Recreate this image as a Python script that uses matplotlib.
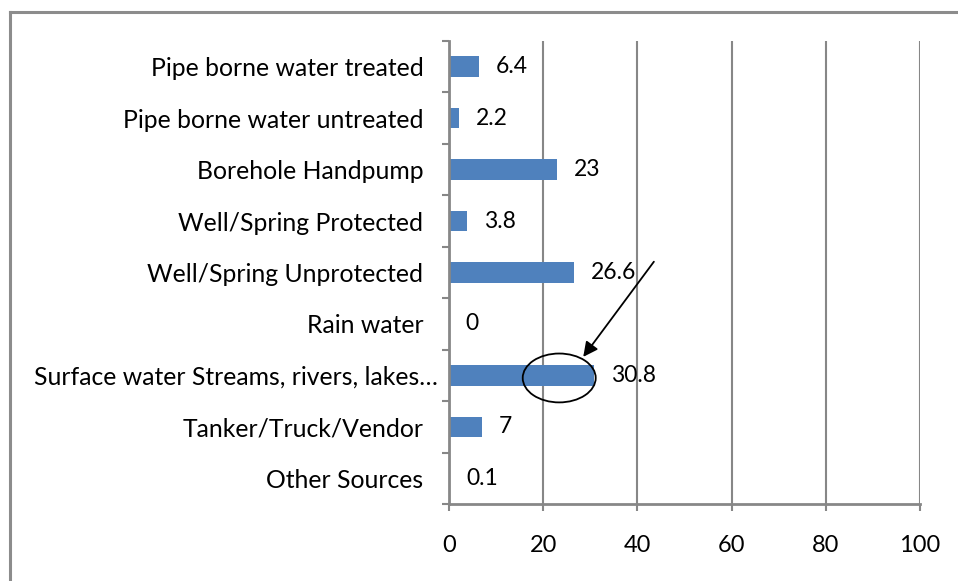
import matplotlib
matplotlib.use("Agg")
import matplotlib.pyplot as plt
from matplotlib.patches import Ellipse
from matplotlib.lines import Line2D
from matplotlib.transforms import ScaledTranslation
import numpy as np

categories = [
    "Pipe borne water treated",
    "Pipe borne water untreated",
    "Borehole Handpump",
    "Well/Spring Protected",
    "Well/Spring Unprotected",
    "Rain water",
    "Surface water Streams, rivers, lakes\u2026",
    "Tanker/Truck/Vendor",
    "Other Sources",
]
values = [6.4, 2.2, 23, 3.8, 26.6, 0, 30.8, 7, 0.1]
value_labels = ["6.4", "2.2", "23", "3.8", "26.6", "0", "30.8", "7", "0.1"]
x_ticks = [0, 20, 40, 60, 80, 100]

plt.rcParams['font.family'] = ['Lato', 'DejaVu Sans']

fig = plt.figure(figsize=(9.58, 5.81), dpi=100)
ax = fig.add_axes([449/958, 1-504/581, (920-449)/958, (504-41)/581])

grid_c = "#878787"
bar_c = "#4F81BD"

y = np.arange(len(categories))
ax.barh(y, values, height=0.4, color=bar_c, zorder=3)

for yi, v, lab in zip(y, values, value_labels):
    ax.annotate(lab, (v, yi), xytext=(12, 0), textcoords="offset points",
                va="center", ha="left", fontsize=16.5, color="black", zorder=4)

ax.set_xlim(0, 100)
ax.set_ylim(len(categories) - 0.5, -0.5)
ax.set_xticks(x_ticks)
ax.set_xticklabels([str(t) for t in x_ticks], fontsize=17)
ax.set_yticks(y)
ax.set_yticklabels(categories, fontsize=17.8)
ax.set_yticks(np.arange(len(categories) + 1) - 0.5, minor=True)
ax.tick_params(axis="y", which="major", length=0, pad=18.5)
ax.tick_params(axis="y", which="minor", length=5, width=1.5, color=grid_c, direction="out")
ax.tick_params(axis="x", which="major", length=5, width=1.5, color=grid_c, direction="out", pad=17.5)

ax.xaxis.grid(True, color=grid_c, linewidth=1.5, zorder=0)
ax.set_axisbelow(True)
for s in ["top", "right"]:
    ax.spines[s].set_visible(False)
for s in ["left", "bottom"]:
    ax.spines[s].set_color(grid_c)
    ax.spines[s].set_linewidth(2)
    ax.spines[s].set_zorder(5)

# the long truncated label overflows a little to the right in the original
lbl = ax.yaxis.get_major_ticks()[6].label1
lbl.set_transform(lbl.get_transform() + ScaledTranslation(15/100, 0, fig.dpi_scale_trans))

# highlight ellipse and arrow
ell = Ellipse((23.4, 6.05), width=15.5, height=0.95, fill=False,
              edgecolor="black", linewidth=1.3, zorder=6, clip_on=False)
ax.add_patch(ell)
ax.annotate("", xy=(28.5, 5.64), xytext=(43.5, 3.79),
            arrowprops=dict(arrowstyle="-|>", color="black", lw=1.3,
                            mutation_scale=22, shrinkA=0, shrinkB=0),
            zorder=6, annotation_clip=False)

# outer border (left and top visible)
fig.add_artist(Line2D([10/958, 10/958], [0, 1-12/581], transform=fig.transFigure,
                      color="#8c8c8c", linewidth=2.2))
fig.add_artist(Line2D([10/958, 1], [1-12/581, 1-12/581], transform=fig.transFigure,
                      color="#8c8c8c", linewidth=2.2))

fig.savefig("out.png", dpi=100)
